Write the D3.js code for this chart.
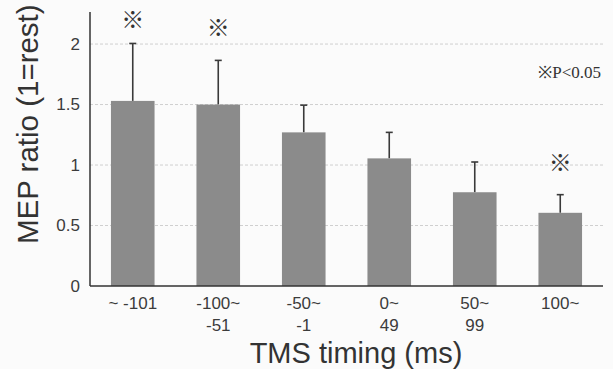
<!DOCTYPE html>
<html>
<head>
<meta charset="utf-8">
<script src="https://cdn.jsdelivr.net/npm/d3@7"></script>
<style>
  body { margin: 0; background: #fbfbfb; }
  svg { display: block; }
</style>
</head>
<body>
<svg width="613" height="369"></svg>
<script>
'use strict';

// MEP ratio by TMS timing window
let timingTop = ["~ -101", "-100~", "-50~", "0~", "50~", "100~"];
let timingBottom = ["", "-51", "-1", "49", "99", ""];
let meanRatio = [1.53, 1.50, 1.27, 1.055, 0.775, 0.605];
let sdRatio = [0.475, 0.365, 0.225, 0.215, 0.25, 0.15];
// height (in ratio units) of the ※ mark, null = not significant
let sigMark = [2.2, 2.13, null, null, null, 1.02];
let yTicks = [0, 0.5, 1, 1.5, 2];

let svg = d3.select("svg"),
    width = +svg.attr("width"),
    height = +svg.attr("height"),
    marge = {top: 12, right: 10, bottom: 83, left: 90};

let x = d3.scaleBand()
    .domain(d3.range(meanRatio.length))
    .range([marge.left, width - marge.right])
    .paddingInner(0.49)
    .paddingOuter(0.245);

let y = d3.scaleLinear()
    .domain([0, 2.265])
    .range([height - marge.bottom, marge.top]);

let g = svg.append("g");

// dashed gridlines
g.append("g")
    .selectAll("line")
    .data(yTicks.filter(function(d){ return d > 0; }))
    .enter()
    .append("line")
    .attr("x1", marge.left)
    .attr("x2", width - marge.right)
    .attr("y1", function(d){ return y(d); })
    .attr("y2", function(d){ return y(d); })
    .attr("stroke", "#cfcfcf")
    .attr("stroke-width", 1)
    .attr("stroke-dasharray", "3,2");

// error bars
let errs = g.append("g")
    .selectAll("g")
    .data(meanRatio)
    .enter()
    .append("g")
    .attr("stroke", "#3a3a3a")
    .attr("stroke-width", 1.6);
errs.append("line")
    .attr("x1", function(d,i){ return x(i) + x.bandwidth()/2; })
    .attr("x2", function(d,i){ return x(i) + x.bandwidth()/2; })
    .attr("y1", function(d){ return y(d); })
    .attr("y2", function(d,i){ return y(d + sdRatio[i]); });
errs.append("line")
    .attr("x1", function(d,i){ return x(i) + x.bandwidth()/2 - 3.5; })
    .attr("x2", function(d,i){ return x(i) + x.bandwidth()/2 + 3.5; })
    .attr("y1", function(d,i){ return y(d + sdRatio[i]); })
    .attr("y2", function(d,i){ return y(d + sdRatio[i]); });

// bars
g.append("g")
    .selectAll("rect")
    .data(meanRatio)
    .enter()
    .append("rect")
    .attr("x", function(d,i){ return x(i); })
    .attr("y", function(d){ return y(d); })
    .attr("width", x.bandwidth())
    .attr("height", function(d){ return y(0) - y(d); })
    .attr("fill", "#8b8b8b");

// y axis
let yAxis = g.append("g")
    .attr("transform", "translate(" + marge.left + ",0)")
    .call(d3.axisLeft(y).tickValues(yTicks).tickSize(0).tickPadding(10).tickFormat(d3.format("")));
yAxis.select(".domain")
    .attr("d", "M0," + y.range()[1] + "V" + y(0))
    .attr("stroke", "#333")
    .attr("stroke-width", 1.5);
yAxis.selectAll("text")
    .attr("font-family", "'Liberation Sans', Arial, sans-serif")
    .attr("font-size", 17)
    .attr("fill", "#3c3c3c");

// x axis
let xAxis = g.append("g")
    .attr("transform", "translate(0," + y(0) + ")")
    .call(d3.axisBottom(x).tickSize(0).tickFormat(""));
xAxis.select(".domain")
    .attr("d", "M" + marge.left + ",0H" + (width - marge.right))
    .attr("stroke", "#333")
    .attr("stroke-width", 1.5);
let labels = xAxis.selectAll(".tick text")
    .attr("font-family", "'Liberation Sans', Arial, sans-serif")
    .attr("font-size", 17)
    .attr("fill", "#3c3c3c")
    .attr("y", 23)
    .attr("dy", null);
labels.append("tspan")
    .attr("x", 0)
    .text(function(d){ return timingTop[d]; });
labels.append("tspan")
    .attr("x", 0)
    .attr("dy", 22)
    .text(function(d){ return timingBottom[d]; });

// significance marks
let sigIdx = d3.range(sigMark.length).filter(function(i){ return sigMark[i] !== null; });
g.append("g")
    .selectAll("text")
    .data(sigIdx)
    .enter()
    .append("text")
    .attr("x", function(i){ return x(i) + x.bandwidth()/2; })
    .attr("y", function(i){ return y(sigMark[i]); })
    .attr("dy", "0.35em")
    .attr("text-anchor", "middle")
    .attr("font-family", "'Noto Sans CJK JP', sans-serif")
    .attr("font-size", 23)
    .attr("font-weight", "bold")
    .attr("fill", "#333")
    .text("※");

svg.append("text")
    .attr("x", 601)
    .attr("y", 78)
    .attr("text-anchor", "end")
    .attr("font-family", "'Liberation Serif', 'Times New Roman', serif")
    .attr("font-size", 17)
    .attr("fill", "#333")
    .text("※P<0.05");

// axis titles
svg.append("text")
    .attr("x", 356)
    .attr("y", 363)
    .attr("text-anchor", "middle")
    .attr("font-family", "'Liberation Sans', Arial, sans-serif")
    .attr("font-size", 29)
    .attr("fill", "#333")
    .text("TMS timing (ms)");

svg.append("text")
    .attr("transform", "translate(38,244) rotate(-90)")
    .attr("text-anchor", "start")
    .attr("font-family", "'Liberation Sans', Arial, sans-serif")
    .attr("font-size", 29.5)
    .attr("fill", "#333")
    .text("MEP ratio (1=rest)");
</script>
</body>
</html>
